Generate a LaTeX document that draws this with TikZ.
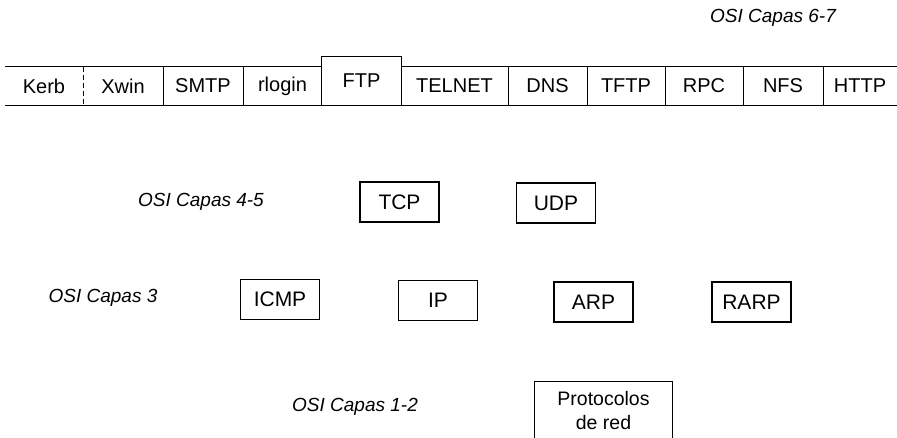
\documentclass[tikz,border=0pt]{standalone}
\usepackage{fontspec}
\setmainfont{Liberation Sans}
\begin{document}
\begin{tikzpicture}[x=1pt,y=-1pt,
  rule/.style={line width=1.2pt},
  cell/.style={inner sep=0pt, minimum height=38pt, font=\fontsize{20}{22}\selectfont},
  proto/.style={draw, line width=1.2pt, minimum width=79pt, minimum height=40pt,
                inner sep=0pt, font=\fontsize{21}{23}\selectfont},
  layer/.style={inner sep=0pt, font=\fontsize{19}{21}\selectfont\itshape}]
\useasboundingbox (0,0) rectangle (897,438);

% application protocols (OSI layers 6-7)
\node[layer] (l67) at (773,18) {OSI Capas 6-7};
\node[cell, minimum width=78pt] (kerb)   at (44,86)    {Kerb};
\node[cell, minimum width=80pt] (xwin)   at (123,86)   {Xwin};
\node[cell, minimum width=80pt] (smtp)   at (203,86)   {SMTP};
\node[cell, minimum width=79pt] (rlogin) at (282.5,86) {rlogin};
\node[cell, minimum width=79pt, minimum height=48pt] (ftp) at (361.5,81) {FTP};
\node[cell, minimum width=107pt] (telnet) at (454.5,86) {TELNET};
\node[cell, minimum width=79pt] (dns)    at (547.5,86) {DNS};
\node[cell, minimum width=78pt] (tftp)   at (626,86)   {TFTP};
\node[cell, minimum width=78pt] (rpc)    at (704,86)   {RPC};
\node[cell, minimum width=80pt] (nfs)    at (783,86)   {NFS};
\node[cell, minimum width=74pt] (http)   at (860,86)   {HTTP};

\draw[rule] (kerb.north west) -- (rlogin.north east);
\draw[rule] (telnet.north west) -- (http.north east);
\draw[rule] (kerb.south west) -- (http.south east);
\draw[rule] (ftp.south west) -- (ftp.north west) -- (ftp.north east) -- (ftp.south east);
\draw[rule, line width=0.8pt, dash pattern=on 5pt off 3pt] (kerb.north east) -- (kerb.south east);
\foreach \c in {xwin,smtp,telnet,dns,tftp,rpc,nfs}
  \draw[rule] (\c.north east) -- (\c.south east);

% transport (OSI layers 4-5)
\node[layer] (l45) at (201,202) {OSI Capas 4-5};
\node[proto] (tcp) at (399.5,202) {TCP};
\node[proto] (udp) at (556,203)   {UDP};

% network (OSI layer 3)
\node[layer] (l3) at (103,298) {OSI Capas 3};
\node[proto] (icmp) at (280,299.5) {ICMP};
\node[proto] (ip)   at (438,300.5) {IP};
\node[proto] (arp)  at (593.5,302) {ARP};
\node[proto] (rarp) at (751.5,302) {RARP};

% link and physical (OSI layers 1-2)
\node[layer] (l12) at (355,407) {OSI Capas 1-2};
\node[inner sep=0pt, minimum width=137pt, minimum height=58pt, align=center,
      font=\fontsize{19.5}{24}\selectfont] (red) at (603.5,411) {Protocolos\\de red};
\draw[rule] (red.south west) -- (red.north west) -- (red.north east) -- (red.south east);
\end{tikzpicture}
\end{document}
